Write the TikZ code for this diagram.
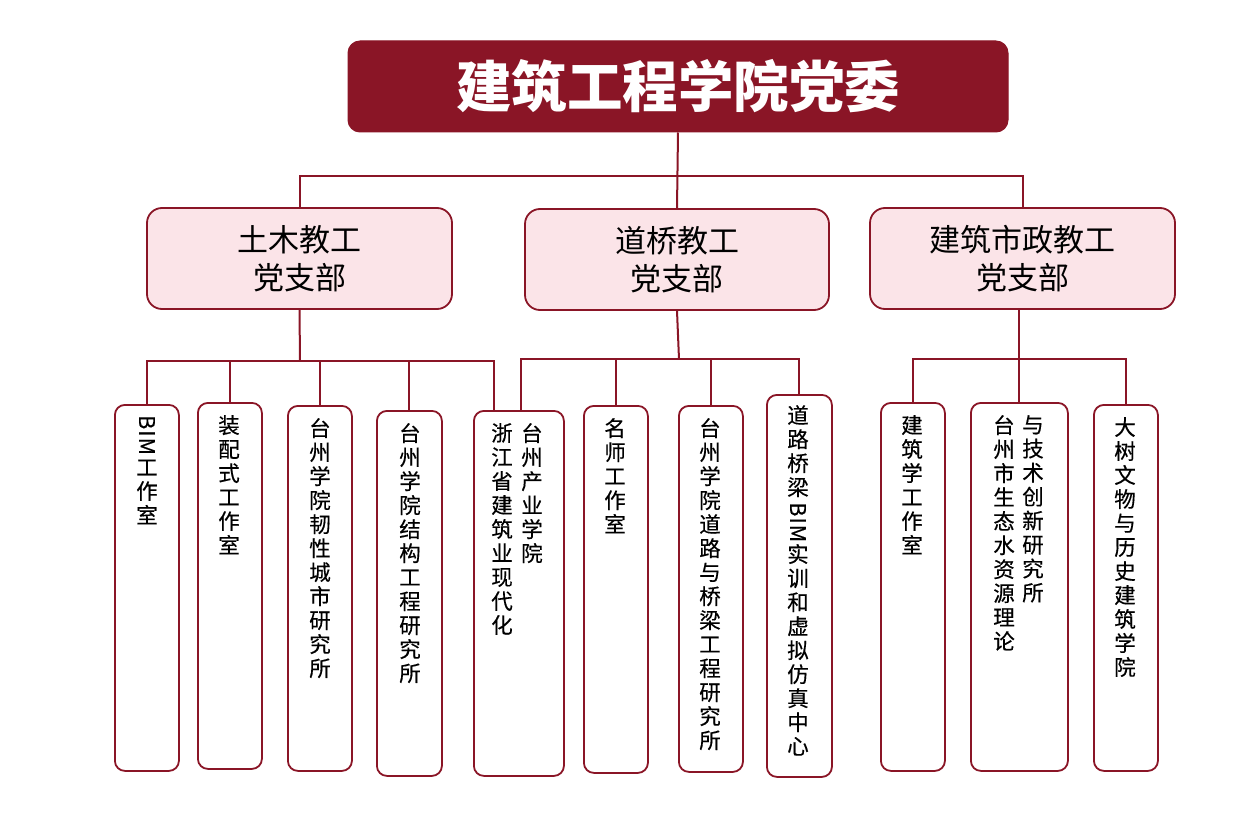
\documentclass[tikz,border=0pt]{standalone}
\usepackage{fontspec}
\usepackage{graphicx}
\newfontfamily\cjk{Noto Sans CJK SC}
\newfontfamily\cjkv[FakeBold=0.35]{Noto Sans CJK SC}
\definecolor{dred}{HTML}{8A1526}
\definecolor{lpink}{HTML}{FBE4E8}
\newcommand\vbim{\raisebox{17pt}[17pt][0pt]{\rotatebox{-90}{B\hspace{1pt}I\hspace{1pt}M}}}
\begin{document}
\begin{tikzpicture}[x=1pt,y=-1pt,
  titlebox/.style={draw=dred, fill=dred, rounded corners=12pt, line width=1pt,
    text=white, font=\cjk\bfseries\fontsize{55.5}{60}\selectfont},
  branch/.style={draw=dred, fill=lpink, rounded corners=15pt, line width=1.8pt,
    align=center, font=\cjk\fontsize{31}{38}\selectfont},
  leaf/.style={draw=dred, fill=white, rounded corners=10pt, line width=1.8pt},
  conn/.style={draw=dred, line width=2pt},
  vtext/.style={anchor=north, inner sep=0pt, align=center,
    font=\cjkv\fontsize{21.5}{24}\selectfont}]
\useasboundingbox (0,0) rectangle (1253,834);
% title
\node[titlebox, minimum width=660pt, minimum height=91pt] (top) at (678,86.5) {建筑工程学院党委};
% branches
\node[branch, minimum width=305pt, minimum height=101pt] (l2a) at (299.5,258.5) {土木教工\\党支部};
\node[branch, minimum width=304pt, minimum height=101pt] (l2b) at (677,259.5) {道桥教工\\党支部};
\node[branch, minimum width=305pt, minimum height=101pt] (l2c) at (1022.5,258.5) {建筑市政教工\\党支部};
% leaves
\node[leaf, anchor=north west, minimum width=64pt, minimum height=366pt] (b1) at (114,404) {};
\node[leaf, anchor=north west, minimum width=64pt, minimum height=366pt] (b2) at (197,402) {};
\node[leaf, anchor=north west, minimum width=64pt, minimum height=365pt] (b3) at (287,405) {};
\node[leaf, anchor=north west, minimum width=65pt, minimum height=365pt] (b4) at (376,410) {};
\node[leaf, anchor=north west, minimum width=90pt, minimum height=365pt] (b5) at (473,410) {};
\node[leaf, anchor=north west, minimum width=64pt, minimum height=367pt] (b6) at (583,405) {};
\node[leaf, anchor=north west, minimum width=64pt, minimum height=366pt] (b7) at (678,405) {};
\node[leaf, anchor=north west, minimum width=65pt, minimum height=382pt] (b8) at (766,394) {};
\node[leaf, anchor=north west, minimum width=64pt, minimum height=368pt] (b9) at (880,402) {};
\node[leaf, anchor=north west, minimum width=97pt, minimum height=368pt] (b10) at (970,402) {};
\node[leaf, anchor=north west, minimum width=64pt, minimum height=366pt] (b11) at (1093,404) {};
% vertical texts
\node[vtext] (t1) at (147,415) {\vbim\\[19pt]工\\作\\室};
\node[vtext] (t2) at (229,415) {装\\配\\式\\工\\作\\室};
\node[vtext] (t3) at (320,418) {台\\州\\学\\院\\韧\\性\\城\\市\\研\\究\\所};
\node[vtext] (t4) at (410,423) {台\\州\\学\\院\\结\\构\\工\\程\\研\\究\\所};
\node[vtext] (t5a) at (502,423) {浙\\江\\省\\建\\筑\\业\\现\\代\\化};
\node[vtext] (t5b) at (532,423) {台\\州\\产\\业\\学\\院};
\node[vtext] (t6) at (615,418) {名\\师\\工\\作\\室};
\node[vtext] (t7) at (710,418) {台\\州\\学\\院\\道\\路\\与\\桥\\梁\\工\\程\\研\\究\\所};
\node[vtext] (t8) at (798,405) {道\\路\\桥\\梁\\\vbim\\[19pt]实\\训\\和\\虚\\拟\\仿\\真\\中\\心};
\node[vtext] (t9) at (912,415) {建\\筑\\学\\工\\作\\室};
\node[vtext] (t10a) at (1004,415) {台\\州\\市\\生\\态\\水\\资\\源\\理\\论};
\node[vtext] (t10b) at (1033,415) {与\\技\\术\\创\\新\\研\\究\\所};
\node[vtext] (t11) at (1125,417) {大\\树\\文\\物\\与\\历\\史\\建\\筑\\学\\院};
% connectors level 1
\coordinate (g0) at (678,176);
\draw[conn] (top.south) -- (l2b.north);
\draw[conn] (l2a.north) |- (g0) -| (l2c.north);
% group 1
\coordinate (g1) at (300,361);
\coordinate (g1r) at (494,410);
\draw[conn] (l2a.south) -- (g1);
\draw[conn] (b1.north) |- (g1) -| (g1r);
\draw[conn] (b2.north) -- (b2.north |- g1);
\draw[conn] (b3.north) -- (b3.north |- g1);
\draw[conn] (b4.north) -- (b4.north |- g1);
% group 2
\coordinate (g2) at (679,359);
\coordinate (g2l) at (521,410);
\draw[conn] (l2b.south) -- (g2);
\draw[conn] (g2l) |- (g2) -| (b8.north);
\draw[conn] (b6.north) -- (b6.north |- g2);
\draw[conn] (b7.north) -- (b7.north |- g2);
% group 3
\coordinate (g3) at (1019,359);
\draw[conn] (b10.north) -- (b10.north |- l2c.south);
\draw[conn] (b9.north) |- (g3) -| (b11.north);
\end{tikzpicture}
\end{document}
